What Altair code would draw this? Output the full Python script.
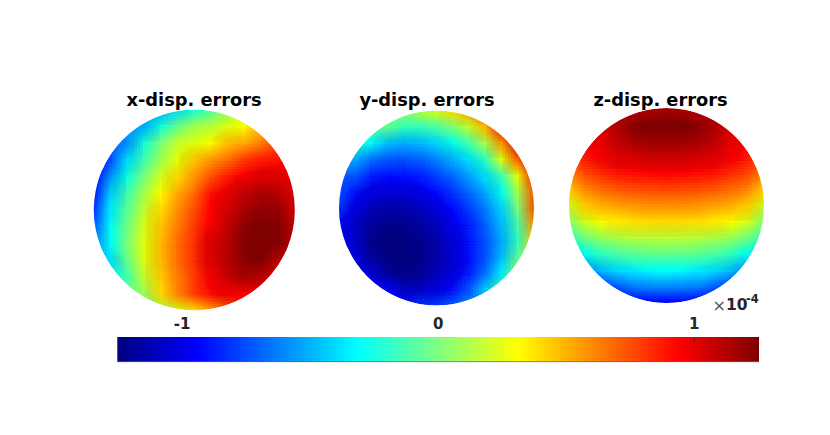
import altair as alt
import pandas as pd

# Field values, in units of 1e-6 (hundredths of the 1e-4 colorbar unit).
# Each table runs top row to bottom row, left column to right column, over a 13x13 grid.
x_disp = [
    [-85, -75, -65, -50, -50, -35, -25, -10, 5, 30, 45, 60, 70],
    [-85, -70, -55, -50, -25, -4, 10, 15, 25, 31, 45, 60, 70],
    [-85, -70, -57, -24, 0, 19, 26, 31, 45, 50, 61, 75, 80],
    [-95, -73, -38, -14, 9, 27, 44, 55, 65, 78, 85, 88, 90],
    [-95, -56, -26, 0, 21, 39, 55, 72, 85, 96, 100, 100, 95],
    [-88, -42, -14, 11, 32, 50, 66, 88, 98, 107, 112, 110, 100],
    [-80, -34, -7, 18, 39, 57, 73, 92, 103, 114, 119, 118, 105],
    [-70, -30, -2, 23, 44, 62, 78, 96, 108, 119, 124, 122, 108],
    [-60, -30, 0, 26, 47, 65, 81, 100, 111, 122, 125, 122, 110],
    [-45, -38, -3, 24, 47, 65, 81, 100, 111, 120, 123, 111, 107],
    [-40, -30, -12, 18, 42, 61, 77, 96, 106, 114, 111, 98, 100],
    [-35, -25, -5, 7, 39, 60, 77, 90, 97, 95, 91, 95, 95],
    [-30, -20, -10, -6, 9, 23, 38, 53, 67, 82, 85, 90, 90],
]
y_disp = [
    [-25, -20, -15, -5, 5, 15, 25, 35, 52, 80, 100, 105, 105],
    [-25, -15, -10, -5, -17, -17, -10, 1, 19, 47, 95, 100, 105],
    [-35, -25, -30, -45, -49, -46, -39, -28, -13, 12, 55, 100, 100],
    [-50, -50, -63, -70, -71, -67, -60, -49, -35, -18, 25, 70, 100],
    [-70, -70, -84, -88, -88, -84, -76, -66, -52, -36, -14, 28, 85],
    [-72, -88, -99, -102, -102, -97, -90, -79, -66, -50, -29, 10, 70],
    [-80, -99, -110, -113, -112, -108, -100, -90, -76, -61, -40, 0, 70],
    [-92, -106, -117, -120, -120, -115, -108, -97, -84, -68, -47, -12, 55],
    [-97, -106, -120, -124, -124, -120, -112, -102, -88, -72, -50, -18, 40],
    [-100, -100, -117, -124, -125, -121, -114, -103, -89, -72, -47, -7, 20],
    [-95, -100, -104, -117, -121, -118, -111, -100, -85, -65, -34, 8, 15],
    [-95, -100, -98, -95, -107, -107, -100, -89, -71, -43, -10, -1, 8],
    [-95, -95, -90, -85, -85, -82, -78, -68, -60, -50, -30, -15, -5],
]
z_disp = [
    [105, 105, 105, 105, 108, 110, 113, 110, 108, 105, 105, 105, 105],
    [100, 100, 102, 112, 120, 125, 125, 125, 120, 112, 102, 100, 100],
    [92, 92, 98, 108, 115, 117, 117, 117, 115, 108, 98, 92, 92],
    [78, 86, 96, 100, 103, 105, 105, 105, 103, 100, 96, 86, 78],
    [60, 75, 82, 87, 89, 91, 91, 91, 89, 87, 82, 75, 60],
    [42, 59, 66, 70, 73, 74, 75, 74, 73, 70, 66, 59, 42],
    [22, 42, 49, 53, 55, 57, 57, 57, 55, 53, 49, 42, 22],
    [2, 22, 30, 34, 37, 38, 39, 38, 37, 34, 30, 22, 2],
    [-18, -2, 7, 12, 15, 16, 17, 16, 15, 12, 7, -2, -18],
    [-39, -30, -18, -12, -8, -6, -6, -6, -8, -12, -18, -30, -39],
    [-59, -59, -46, -38, -34, -32, -31, -32, -34, -38, -46, -59, -59],
    [-79, -79, -79, -70, -62, -59, -58, -59, -62, -70, -79, -79, -79],
    [-92, -92, -92, -92, -92, -92, -92, -92, -92, -92, -92, -92, -92],
]
titles = ["x-disp. errors", "y-disp. errors", "z-disp. errors"]
tick_labels = ["-1", "0", "1"]
tick_values = [-1, 0, 1]
drawn_ticks = [1]

# Layout, in pixels of the plot area (page pixel minus the 8px margin).
W, H = 814, 419
sphere_cx = [186.3, 428.5, 658.5]
sphere_cy = [202.0, 200.0, 197.5]
sphere_r = [100.5, 97.5, 97.5]
title_x = [186, 419, 652.5]
title_y = [97.7, 97.7, 97.7]
bar_x0, bar_x1, bar_y0, bar_y1 = 109.3, 751.0, 329.0, 353.7
bar_zero, bar_unit = 430.2, 256.0

X = alt.X("x0:Q", scale=alt.Scale(domain=[0, W], range=[0, W]), axis=None)
X2 = alt.X2("x1:Q")
Y = alt.Y("y0:Q", scale=alt.Scale(domain=[0, H], range=[0, H]), axis=None)
Y2 = alt.Y2("y1:Q")

jet_domain = [-125.6, -94.2, -31.4, 31.4, 94.2, 125.6]
jet_range = ["#00007f", "#0000ff", "#00ffff", "#ffff00", "#ff0000", "#7f0000"]
jet = alt.Scale(domain=jet_domain, range=jet_range, interpolate="rgb", clamp=True)

rows = []
for k, table in enumerate([x_disp, y_disp, z_disp]):
    for r_i, row in enumerate(table):
        for c_i, val in enumerate(row):
            i, j = c_i - 6, 6 - r_i
            if i * i + j * j <= 61:
                rows.append(
                    dict(cx=sphere_cx[k], cy=sphere_cy[k], r=sphere_r[k], u=i / 6, v=j / 6, value=val)
                )
cells = pd.DataFrame(rows)

layers = []
steps = (-5, -3, -1, 1, 3, 5)
shifts = [(sx, sy) for sy in steps for sx in steps]
for n, (sx, sy) in enumerate(shifts, start=1):
    base = (
        alt.Chart(cells)
        .transform_calculate(
            x0=f"datum.cx+datum.r*(datum.u-1/12+({sx})/72)",
            x1=f"datum.cx+datum.r*(datum.u+1/12+({sx})/72)",
            y0=f"datum.cy-datum.r*(datum.v+1/12+({sy})/72)",
            y1=f"datum.cy-datum.r*(datum.v-1/12+({sy})/72)",
        )
    )
    enc = dict(x=X, x2=X2, y=Y, y2=Y2, color=alt.Color("value:Q", scale=jet, legend=None))
    if n == 1:
        layers.append(
            base.mark_rect(strokeWidth=0.7).encode(
                stroke=alt.Stroke("value:Q", scale=jet, legend=None), **enc
            )
        )
    else:
        layers.append(base.mark_rect(opacity=1 / n, strokeWidth=0).encode(**enc))

rings = pd.DataFrame({"x0": sphere_cx, "y0": sphere_cy, "r": sphere_r})
rings["r2"] = rings["r"] + 34
rings["r3"] = rings["r"] + 58
layers.append(
    alt.Chart(rings)
    .mark_arc(color="white", theta=0, theta2=6.2832)
    .encode(x=X, y=Y, radius=alt.Radius("r:Q", scale=None), radius2=alt.Radius2("r2:Q"))
)
for t0, t1 in [(5.131, 7.435), (1.990, 4.294)]:
    layers.append(
        alt.Chart(rings)
        .mark_arc(color="white", theta=t0, theta2=t1)
        .encode(x=X, y=Y, radius=alt.Radius("r:Q", scale=None), radius2=alt.Radius2("r3:Q"))
    )

bar = pd.DataFrame({"x0": [bar_x0], "x1": [bar_x1], "y0": [bar_y0], "y1": [bar_y1]})
stops = [
    alt.GradientStop(offset=(d + 125.6) / 251.2, color=c) for d, c in zip(jet_domain, jet_range)
]
layers.append(
    alt.Chart(bar)
    .mark_rect(
        color=alt.LinearGradient(gradient="linear", stops=stops, x1=0, x2=1, y1=0, y2=0),
    )
    .encode(x=X, x2=X2, y=Y, y2=Y2)
)
layers.append(
    alt.Chart(bar)
    .mark_rule(color="#404040", strokeWidth=0.6)
    .encode(x=X, x2=X2, y=alt.Y("y1:Q", scale=alt.Scale(domain=[0, H], range=[0, H]), axis=None))
)

tick_marks = pd.DataFrame(
    {
        "x0": [bar_zero + bar_unit * t for t in drawn_ticks],
        "y0": [bar_y0] * len(drawn_ticks),
        "y1": [bar_y0 + 6] * len(drawn_ticks),
    }
)
layers.append(
    alt.Chart(tick_marks).mark_rule(color="#262626", strokeWidth=0.6).encode(x=X, y=Y, y2=Y2)
)
tick_text = pd.DataFrame(
    {
        "x0": [bar_zero + bar_unit * t for t in tick_values],
        "y0": [bar_y0 - 8] * 3,
        "label": tick_labels,
    }
)
layers.append(
    alt.Chart(tick_text)
    .mark_text(font="DejaVu Sans", fontWeight="bold", fontSize=15, color="#262626", baseline="alphabetic")
    .encode(x=X, y=Y, text="label:N")
)

head = pd.DataFrame({"x0": title_x, "y0": title_y, "label": titles})
layers.append(
    alt.Chart(head)
    .mark_text(font="DejaVu Sans", fontWeight="bold", fontSize=17.8, color="black", baseline="alphabetic")
    .encode(x=X, y=Y, text="label:N")
)

expo = pd.DataFrame(
    {
        "x0": [704.5, 718.0, 738.0],
        "y0": [303.0, 302.0, 295.0],
        "label": ["\u00d7", "10", "-4"],
        "size": [16, 15.5, 11.5],
        "wt": ["normal", "bold", "bold"],
        "col": ["#555555", "#262626", "#262626"],
    }
)
for _, e in expo.iterrows():
    layers.append(
        alt.Chart(pd.DataFrame([e]))
        .mark_text(
            font="DejaVu Sans",
            fontWeight=e["wt"],
            fontSize=float(e["size"]),
            color=e["col"],
            align="left",
            baseline="alphabetic",
        )
        .encode(x=X, y=Y, text="label:N")
    )

chart = (
    alt.layer(*layers)
    .resolve_scale(color="shared")
    .properties(width=W, height=H, padding=0, background="white")
    .configure_view(stroke=None)
)
chart.save("out.html", embed_options={"renderer": "svg", "actions": False})
